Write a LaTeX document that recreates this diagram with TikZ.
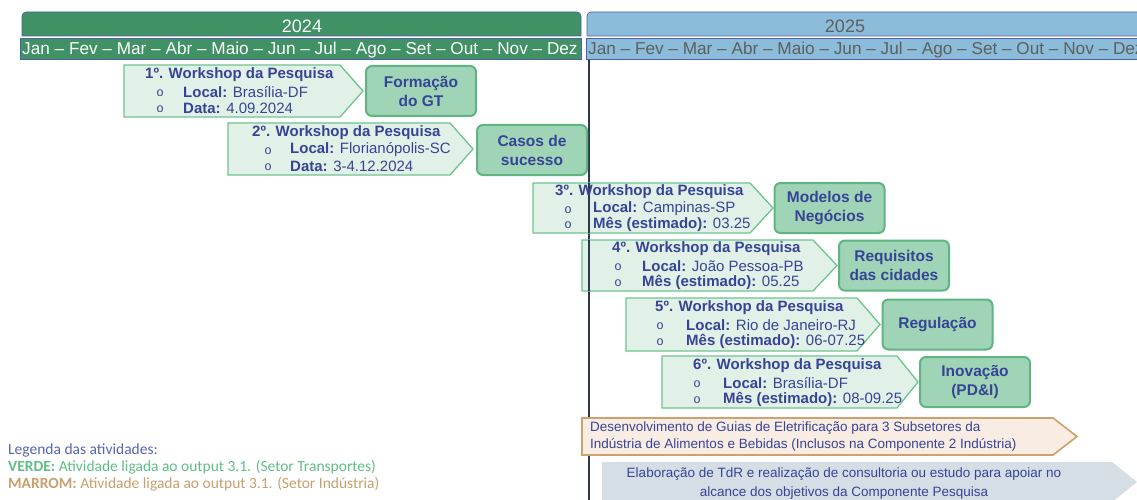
\documentclass[tikz,border=0pt]{standalone}
\usepackage{fontspec}
\setmainfont{Liberation Sans}
\newfontfamily\yearfont{Liberation Sans}
\newfontfamily\legfont{Carlito}
\definecolor{hdgreen}{RGB}{64,145,100}
\definecolor{hdblue}{RGB}{139,188,217}
\definecolor{barline}{RGB}{80,95,170}
\definecolor{wsfill}{RGB}{226,241,231}
\definecolor{wsborder}{RGB}{110,195,145}
\definecolor{resfill}{RGB}{160,212,182}
\definecolor{resborder}{RGB}{95,180,130}
\definecolor{txtblue}{RGB}{55,68,150}
\definecolor{graytxt}{RGB}{95,95,95}
\definecolor{brownfill}{RGB}{249,237,227}
\definecolor{brownborder}{RGB}{205,160,110}
\definecolor{grayfill}{RGB}{213,221,229}
\definecolor{legblue}{RGB}{85,100,180}
\definecolor{leggreen}{RGB}{95,190,135}
\definecolor{legtan}{RGB}{200,160,110}
\definecolor{vline}{RGB}{45,55,80}
\tikzset{
  wsbox/.style={draw=wsborder, fill=wsfill, line width=1.3pt},
  resbox/.style={draw=resborder, fill=resfill, line width=2pt, rounded corners=6pt,
    minimum width=110pt, minimum height=50pt, align=center, text=txtblue,
    font=\bfseries\fontsize{15.5}{19}\selectfont},
  wtitle/.style={anchor=west, inner sep=0pt, text=txtblue, font=\bfseries\fontsize{15}{17}\selectfont},
  wline/.style={anchor=west, inner sep=0pt, text=txtblue, font=\fontsize{15}{17}\selectfont},
  wbul/.style={inner sep=0pt, text=txtblue, font=\fontsize{12.5}{14}\selectfont},
  month/.style={anchor=west, inner sep=0pt, font=\fontsize{17.2}{19}\selectfont},
  legtxt/.style={anchor=west, inner sep=0pt, font=\legfont\fontsize{15.5}{17}\selectfont},
}
\begin{document}
\begin{tikzpicture}[x=1pt,y=-1pt]
\useasboundingbox (0,0) rectangle (1137,500);
\fill[white] (0,0) rectangle (1137,500);
\clip (0,0) rectangle (1137,500);
% header bars
\draw[fill=hdgreen, draw=barline, line width=0.6pt] (22,36) [rounded corners=4pt] -- (22,12) -- (581,12) [sharp corners] -- (581,36) -- cycle;
\node[text=white, font=\yearfont\fontsize{18}{20}\selectfont] (y24) at (302,26) {2024};
\draw[fill=hdgreen, draw=barline, line width=1pt] (20,39) rectangle (581,60);
\node[month, text=white] (m24) at (22,50) {Jan – Fev – Mar – Abr – Maio – Jun – Jul – Ago – Set – Out – Nov – Dez};
\draw[fill=hdblue, draw=barline, line width=0.6pt] (587,36) [rounded corners=4pt] -- (587,12) -- (1145,12) [sharp corners] -- (1145,36) -- cycle;
\node[text=graytxt, font=\yearfont\fontsize{18}{20}\selectfont] (y25) at (845,26) {2025};
\draw[fill=hdblue, draw=barline, line width=1pt] (586,39) rectangle (1145,60);
\node[month, text=graytxt] (m25) at (588,50) {Jan – Fev – Mar – Abr – Maio – Jun – Jul – Ago – Set – Out – Nov – Dez};

% vertical line
\coordinate (vt) at (589,60);
\coordinate (vb) at (589,500);
\draw[vline, line width=1.4pt] (vt) -- (vb);

% workshop 1
\draw[wsbox] (124,65) -- (340,65) -- (363,91) -- (340,117) -- (124,117) -- cycle;
\node[wtitle] (w1t) at (145,75) {1º. Workshop da Pesquisa};
\node[wbul] (w1b1) at (160,93) {o};
\node[wbul] (w1b2) at (160,109) {o};
\node[wline] (w1l1) at (183,92) {\textbf{Local:} Brasília-DF};
\node[wline] (w1l2) at (183,108) {\textbf{Data:} 4.09.2024};
\node[resbox] (r1) at (421,91) {Formação\\do GT};

% workshop 2
\draw[wsbox] (228,123) -- (450,123) -- (473,149) -- (450,175) -- (228,175) -- cycle;
\node[wtitle] (w2t) at (252,133) {2º. Workshop da Pesquisa};
\node[wbul] (w2b1) at (268,151) {o};
\node[wbul] (w2b2) at (268,167) {o};
\node[wline] (w2l1) at (290,150) {\textbf{Local:} Florianópolis-SC};
\node[wline] (w2l2) at (290,166) {\textbf{Data:} 3-4.12.2024};
\node[resbox] (r2) at (532,150) {Casos de\\sucesso};

% workshop 3
\draw[wsbox] (533,183) -- (750,183) -- (773,208) -- (750,233) -- (533,233) -- cycle;
\draw[vline, line width=1.4pt] (589,183) -- (589,233);
\node[wtitle] (w3t) at (555,192) {3º. Workshop da Pesquisa};
\node[wbul] (w3b1) at (568,210) {o};
\node[wbul] (w3b2) at (568,225) {o};
\node[wline] (w3l1) at (593,209) {\textbf{Local:} Campinas-SP};
\node[wline] (w3l2) at (593,224) {\textbf{Mês (estimado):} 03.25};
\node[resbox] (r3) at (829.5,208) {Modelos de\\Negócios};

% workshop 4
\draw[wsbox] (582,240) -- (813,240) -- (837,265.5) -- (813,291) -- (582,291) -- cycle;
\draw[vline, line width=1.4pt] (589,240) -- (589,291);
\node[wtitle] (w4t) at (612,249) {4º. Workshop da Pesquisa};
\node[wbul] (w4b1) at (618,267) {o};
\node[wbul] (w4b2) at (618,283) {o};
\node[wline] (w4l1) at (642,266) {\textbf{Local:} João Pessoa-PB};
\node[wline] (w4l2) at (642,282) {\textbf{Mês (estimado):} 05.25};
\node[resbox] (r4) at (894,265.5) {Requisitos\\das cidades};

% workshop 5
\draw[wsbox] (626,298) -- (857,298) -- (880,324.5) -- (857,351) -- (626,351) -- cycle;
\node[wtitle] (w5t) at (655,308) {5º. Workshop da Pesquisa};
\node[wbul] (w5b1) at (660,326) {o};
\node[wbul] (w5b2) at (660,342) {o};
\node[wline] (w5l1) at (686,325) {\textbf{Local:} Rio de Janeiro-RJ};
\node[wline] (w5l2) at (686,341) {\textbf{Mês (estimado):} 06-07.25};
\node[resbox] (r5) at (937.5,324.5) {Regulação};

% workshop 6
\draw[wsbox] (662,356) -- (897,356) -- (918,382) -- (897,408) -- (662,408) -- cycle;
\node[wtitle] (w6t) at (693,366) {6º. Workshop da Pesquisa};
\node[wbul] (w6b1) at (697,384) {o};
\node[wbul] (w6b2) at (697,400) {o};
\node[wline] (w6l1) at (723,383) {\textbf{Local:} Brasília-DF};
\node[wline] (w6l2) at (723,399) {\textbf{Mês (estimado):} 08-09.25};
\node[resbox] (r6) at (975,382) {Inovação\\(PD\&I)};

% brown arrow (covers the vertical line)
\draw[draw=brownborder, fill=brownfill, line width=1.6pt] (582,418) -- (1053,418) -- (1077,436.5) -- (1053,455) -- (582,455) -- cycle;
\node[wline, font=\fontsize{13.5}{15}\selectfont] (br1) at (590,428) {Desenvolvimento de Guias de Eletrificação para 3 Subsetores da};
\node[wline, font=\fontsize{13.5}{15}\selectfont] (br2) at (590,445) {Indústria de Alimentos e Bebidas (Inclusos na Componente 2 Indústria)};

% gray arrow
\fill[grayfill] (602,462) -- (1112,462) -- (1137,482) -- (1112,502) -- (602,502) -- cycle;
\node[text=txtblue, align=center, inner sep=0pt, font=\fontsize{13.5}{19}\selectfont] (gr) at (844,484)
  {Elaboração de TdR e realização de consultoria ou estudo para apoiar no\\alcance dos objetivos da Componente Pesquisa};

% legend
\node[legtxt, text=legblue] (lg1) at (8,450) {Legenda das atividades:};
\node[legtxt, text=leggreen] (lg2) at (8,467) {\textbf{VERDE:} Atividade ligada ao output 3.1. (Setor Transportes)};
\node[legtxt, text=legtan] (lg3) at (8,484) {\textbf{MARROM:} Atividade ligada ao output 3.1. (Setor Indústria)};
\end{tikzpicture}
\end{document}
